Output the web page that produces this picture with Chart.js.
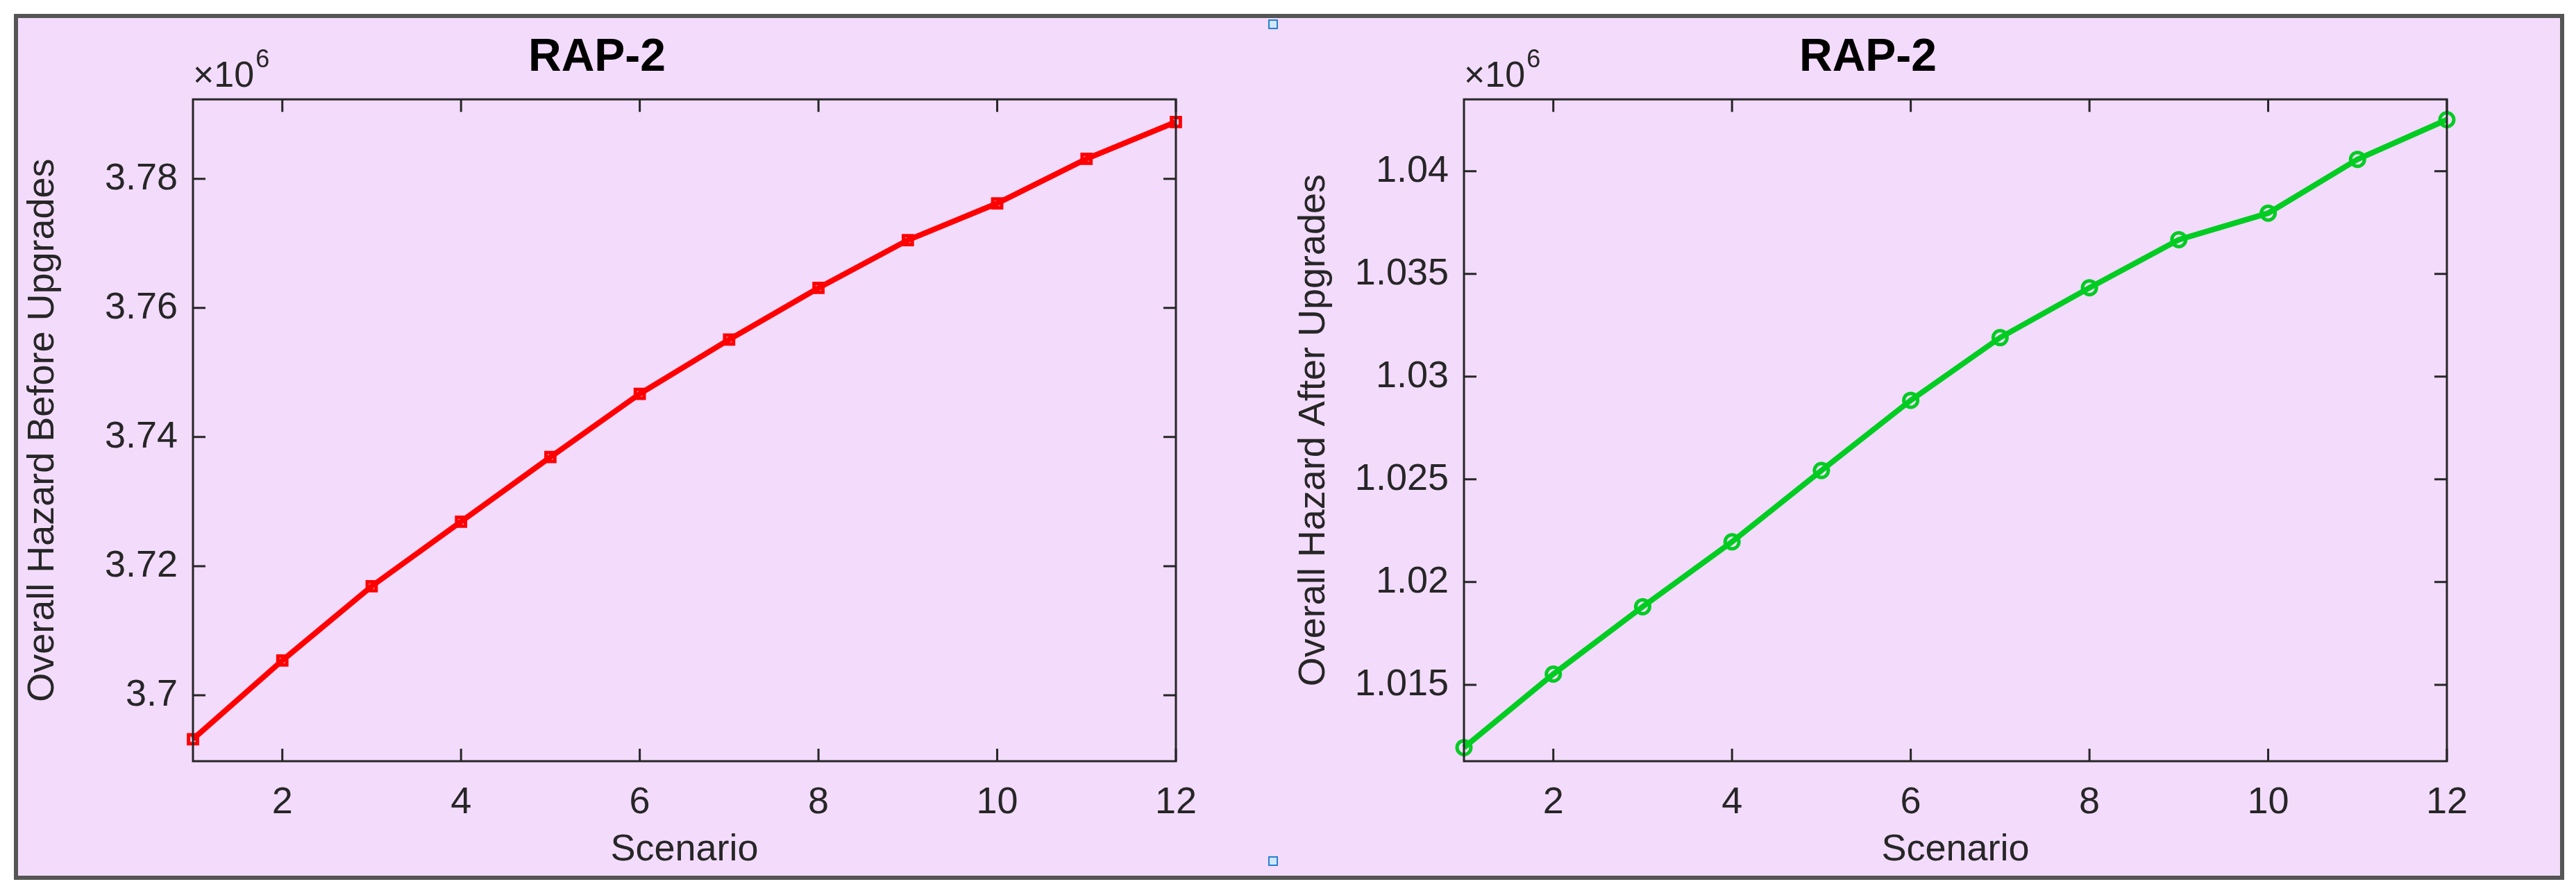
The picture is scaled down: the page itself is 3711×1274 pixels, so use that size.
<!DOCTYPE html>
<html><head><meta charset="utf-8">
<script src="https://cdn.jsdelivr.net/npm/chart.js@4"></script>
<style>
body{margin:0;width:3711px;height:1274px;background:#fff;position:relative;overflow:hidden;font-family:"Liberation Sans",Arial,sans-serif}
#frame{position:absolute;left:20px;top:20px;width:3662px;height:1236px;border:6px solid #555;background:#f3dbfc}
.c{position:absolute;top:26px;width:1831px;height:1236px}
.h{position:absolute;width:10px;height:10px;border:2px solid #2a7fd0;background:#cfe8ff}
</style></head><body>
<div id="frame"></div>
<div class="c" style="left:26px"><canvas id="a"></canvas></div>
<div class="c" style="left:1857px"><canvas id="b"></canvas></div>
<div class="h" style="left:1827px;top:28px"></div>
<div class="h" style="left:1827px;top:1234px"></div>
<script>
const scenarios=[1,2,3,4,5,6,7,8,9,10,11,12];
const before=[3.6932,3.7054,3.7169,3.7269,3.7369,3.7467,3.7551,3.7631,3.7705,3.7762,3.7831,3.7888];
const after=[1.01194,1.01552,1.01880,1.02196,1.02543,1.02885,1.03190,1.03433,1.03667,1.03796,1.04058,1.04251];
const xTicks=[2,4,6,8,10,12];
const yTicksA=[3.70,3.72,3.74,3.76,3.78];
const yTicksB=[1.015,1.02,1.025,1.03,1.035,1.04];
const F='"Liberation Sans",Arial,sans-serif';
const boxPlugin={id:'box',afterDatasetsDraw(ch){
 const {ctx,chartArea:a,scales:{x,y}}=ch;ctx.save();ctx.strokeStyle='#262626';ctx.lineWidth=3;
 ctx.strokeRect(a.left,a.top,a.right-a.left,a.bottom-a.top);
 const L=18;ctx.beginPath();
 x.ticks.forEach(t=>{const p=x.getPixelForValue(t.value);ctx.moveTo(p,a.bottom);ctx.lineTo(p,a.bottom-L);ctx.moveTo(p,a.top);ctx.lineTo(p,a.top+L);});
 y.ticks.forEach(t=>{const p=y.getPixelForValue(t.value);ctx.moveTo(a.left,p);ctx.lineTo(a.left+L,p);ctx.moveTo(a.right,p);ctx.lineTo(a.right-L,p);});
 ctx.stroke();
 ctx.fillStyle='#262626';ctx.font='52px '+F;ctx.textBaseline='alphabetic';ctx.textAlign='left';
 ctx.fillText('\u00d710',a.left,a.top-18);const w=ctx.measureText('\u00d710').width;
 ctx.font='36px '+F;ctx.fillText('6',a.left+w+2,a.top-46);ctx.restore();}};
function make(id,data,yt,ymin,ymax,color,style,rad,label,dec){
 new Chart(document.getElementById(id),{type:'line',
 data:{labels:scenarios,datasets:[{data:scenarios.map((s,i)=>({x:s,y:data[i]})),borderColor:color,backgroundColor:'rgba(0,0,0,0)',pointBorderColor:color,borderWidth:8,pointStyle:style,pointRadius:rad,pointBorderWidth:5,tension:0}]},
 options:{responsive:false,animation:false,maintainAspectRatio:false,clip:false,
  layout:{padding:{right:163,top:0}},
  plugins:{legend:{display:false},tooltip:{enabled:false},
   title:{display:true,text:'RAP-2',color:'#000',font:{family:F,size:66,weight:'bold'},padding:{top:18,bottom:20}}},
  scales:{
   x:{type:'linear',min:1,max:12,afterBuildTicks:s=>{s.ticks=xTicks.map(v=>({value:v}))},
    grid:{display:false},border:{display:false},
    ticks:{color:'#262626',font:{family:F,size:54},padding:20,maxRotation:0},
    title:{display:true,text:'Scenario',color:'#262626',font:{family:F,size:54},padding:{top:0}},
    afterFit:s=>{s.height=165}},
   y:{min:ymin,max:ymax,afterBuildTicks:s=>{s.ticks=yt.map(v=>({value:v}))},
    grid:{display:false},border:{display:false},
    ticks:{color:'#262626',font:{family:F,size:54},padding:14,callback:v=>+v.toFixed(dec)+''},
    title:{display:true,text:label,color:'#262626',font:{family:F,size:54},padding:{bottom:4}},
    afterFit:s=>{s.width=252}}}},
 plugins:[boxPlugin]});
}
['a','b'].forEach(id=>{const c=document.getElementById(id);c.width=1831;c.height=1236;c.style.width='1831px';c.style.height='1236px';});
make('a',before,yTicksA,3.6898,3.7923,'#ff0000','rect',9,'Overall Hazard Before Upgrades',2);
make('b',after,yTicksB,1.01128,1.0435,'#00cc22','circle',10,'Overall Hazard After Upgrades',3);
</script></body></html>
